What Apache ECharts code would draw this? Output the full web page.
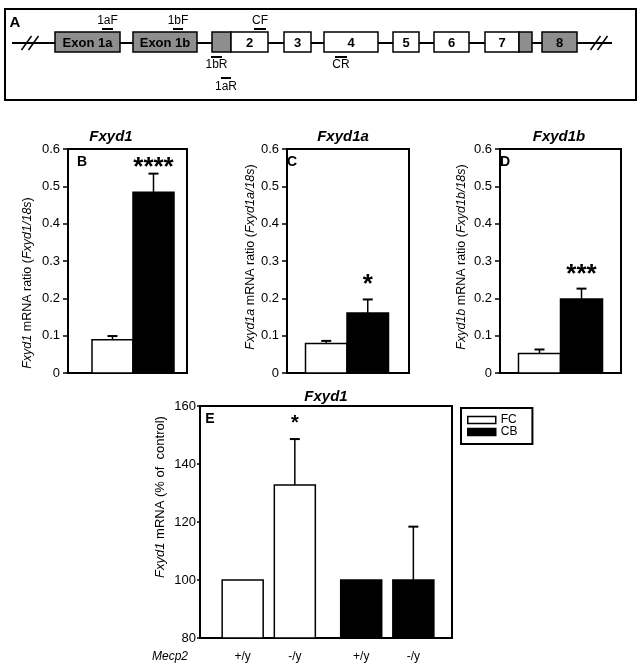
<!DOCTYPE html>
<html>
<head>
<meta charset="utf-8">
<script src="https://cdn.jsdelivr.net/npm/echarts@6/dist/echarts.min.js"></script>
<style>
  html, body { margin: 0; padding: 0; background: #fff; }
  #chart { width: 643px; height: 671px; }
</style>
</head>
<body>
<div id="chart"></div>
<script>
const FONT = "'Liberation Sans', Arial, sans-serif"

// Panel A: gene map, positions in diagram units along the panel box
const exonStart = [50, 128, 207, 226, 279, 319, 388, 429, 480, 514, 537]
const exonEnd = [115, 192, 226, 263, 306, 373, 414, 464, 514, 527, 572]
const exonLabel = ['Exon 1a', 'Exon 1b', '', '2', '3', '4', '5', '6', '7', '', '8']
const exonUtr = [1, 1, 1, 0, 0, 0, 0, 0, 0, 1, 1]
const primerName = ['1aF', '1bF', 'CF', '1bR', '1aR', 'CR']
const primerStart = [97, 168, 249, 206, 216, 330]
const primerEnd = [108, 178, 261, 217, 226, 342]
const primerRow = [0, 0, 0, 1, 2, 1]
const backbone = [7, 607]
const breakAt = [25, 594]

// Panels B-D: mRNA ratio, white = FC, black = CB
const tissue = ['FC', 'CB']
const tissueFill = ['#ffffff', '#000000']
const ratioTicks = [0, 0.1, 0.2, 0.3, 0.4, 0.5, 0.6]
const fxyd1Ratio = [0.089, 0.484]
const fxyd1Sem = [0.010, 0.050]
const fxyd1Sig = ['', '****']
const fxyd1aRatio = [0.079, 0.161]
const fxyd1aSem = [0.007, 0.036]
const fxyd1aSig = ['', '*']
const fxyd1bRatio = [0.052, 0.198]
const fxyd1bSem = [0.011, 0.028]
const fxyd1bSig = ['', '***']

// Panel E: % of control by Mecp2 genotype
const genotype = ['+/y', '-/y']
const percentTicks = [80, 100, 120, 140, 160]
const fcPercent = [100, 132.8]
const fcSem = [0, 15.8]
const fcSig = ['', '*']
const cbPercent = [100, 100]
const cbSem = [0, 18.4]
const cbSig = ['', '']

// layout of the gene map rows (diagram units, top = 0)
const LINE_Y = 34
const EXON_TOP = 23
const EXON_BOTTOM = 43
const ROW_BAR_Y = [20, 48, 69]
const ROW_TEXT_Y = [12, 56, 78]

function renderBackbone(params, api) {
  const a = api.coord([api.value(0), LINE_Y])
  const b = api.coord([api.value(1), LINE_Y])
  return {
    type: 'line',
    shape: { x1: a[0], y1: a[1], x2: b[0], y2: b[1] },
    style: { stroke: '#000', lineWidth: 2 },
  }
}

function renderBreak(params, api) {
  const c = api.coord([api.value(0), LINE_Y])
  return {
    type: 'group',
    children: [-3.5, 3.5].map((d) => ({
      type: 'line',
      shape: { x1: c[0] + d - 5, y1: c[1] + 7, x2: c[0] + d + 5, y2: c[1] - 7 },
      style: { stroke: '#000', lineWidth: 1.5 },
    })),
  }
}

function renderExon(params, api) {
  const i = params.dataIndex
  const a = api.coord([api.value(0), EXON_TOP])
  const b = api.coord([api.value(1), EXON_BOTTOM])
  const kids = [{
    type: 'rect',
    shape: { x: a[0], y: a[1], width: b[0] - a[0], height: b[1] - a[1] },
    style: { fill: exonUtr[i] ? '#8e8e8e' : '#ffffff', stroke: '#000', lineWidth: 1.5 },
  }]
  if (exonLabel[i]) {
    kids.push({
      type: 'text',
      style: {
        text: exonLabel[i], x: (a[0] + b[0]) / 2, y: (a[1] + b[1]) / 2 + 1,
        align: 'center', verticalAlign: 'middle',
        font: 'bold 13px ' + FONT, fill: '#000',
      },
    })
  }
  return { type: 'group', children: kids }
}

function renderPrimer(params, api) {
  const i = params.dataIndex
  const row = api.value(2)
  const a = api.coord([api.value(0), ROW_BAR_Y[row]])
  const b = api.coord([api.value(1), ROW_BAR_Y[row]])
  const t = api.coord([(api.value(0) + api.value(1)) / 2, ROW_TEXT_Y[row]])
  return {
    type: 'group',
    children: [
      { type: 'line', shape: { x1: a[0], y1: a[1], x2: b[0], y2: b[1] }, style: { stroke: '#000', lineWidth: 2 } },
      {
        type: 'text',
        style: { text: primerName[i], x: t[0], y: t[1], align: 'center', verticalAlign: 'middle', font: '12px ' + FONT, fill: '#000' },
      },
    ],
  }
}

// bars with upward SEM whisker and significance stars
function makeBarRenderer(cfg) {
  return function (params, api) {
    const i = params.dataIndex
    const cs = params.coordSys
    const x = api.value(0) + cfg.spread * (i - 0.5)
    const v = api.value(1)
    const e = api.value(2)
    const tl = api.coord([x - cfg.width / 2, v])
    const br = api.coord([x + cfg.width / 2, cfg.base])
    const mid = (tl[0] + br[0]) / 2
    const kids = [{
      type: 'rect',
      shape: { x: tl[0], y: tl[1], width: br[0] - tl[0], height: br[1] - tl[1] },
      style: { fill: cfg.fill ? cfg.fill[i] : api.visual('color'), stroke: '#000', lineWidth: 1.5 },
    }]
    let top = tl[1]
    if (e > 0) {
      top = api.coord([x, v + e])[1]
      kids.push({ type: 'line', shape: { x1: mid, y1: tl[1], x2: mid, y2: top }, style: { stroke: '#000', lineWidth: 1.5 } })
      kids.push({ type: 'line', shape: { x1: mid - 5, y1: top, x2: mid + 5, y2: top }, style: { stroke: '#000', lineWidth: 2 } })
    }
    const mark = cfg.marks[i]
    if (mark) {
      const cy = Math.max(top - 20, cs.y + 13)
      kids.push({
        type: 'text',
        style: {
          text: mark, x: mid, y: cy + 0.22 * cfg.markSize,
          align: 'center', verticalAlign: 'middle',
          font: 'bold ' + cfg.markSize + 'px ' + FONT, fill: '#000',
        },
      })
    }
    if (cfg.labels) {
      kids.push({
        type: 'text',
        style: {
          text: cfg.labels[i], x: mid, y: cs.y + cs.height + 19,
          align: 'center', verticalAlign: 'middle', font: '12px ' + FONT, fill: '#000',
        },
      })
    }
    return { type: 'group', children: kids }
  }
}

function pairData(values, sem) {
  return values.map((v, i) => [i, v, sem[i]])
}

function groupData(group, values, sem) {
  return values.map((v, i) => [group, v, sem[i]])
}

function valueAxis(gridIndex, ticks, name, nameSize, nameGap, namePad, tickLen, margin) {
  return {
    type: 'value',
    gridIndex: gridIndex,
    min: ticks[0],
    max: ticks[ticks.length - 1],
    interval: ticks[1] - ticks[0],
    name: name,
    nameLocation: 'middle',
    nameRotate: 90,
    nameGap: nameGap,
    nameTextStyle: {
      color: '#000', fontSize: nameSize, fontFamily: FONT, padding: namePad,
      rich: { i: { fontStyle: 'italic', fontSize: nameSize, fontFamily: FONT, color: '#000' } },
    },
    axisLine: { show: true, onZero: false, lineStyle: { color: '#000', width: 2 } },
    axisTick: { show: true, length: tickLen, lineStyle: { color: '#000', width: 1.5 } },
    axisLabel: { color: '#000', fontSize: 13, fontFamily: FONT, margin: margin },
    splitLine: { show: false },
  }
}

function hiddenX(gridIndex, min, max) {
  return { type: 'value', gridIndex: gridIndex, min: min, max: max, show: false }
}

function label(text, x, y, font) {
  return {
    type: 'text', x: x, y: y,
    style: { text: text, align: 'center', verticalAlign: 'middle', font: font, fill: '#000' },
  }
}

const gridBox = { show: true, borderColor: '#000', borderWidth: 2, backgroundColor: 'transparent' }

const chart = echarts.init(document.getElementById('chart'))
chart.setOption({
  animation: false,
  backgroundColor: '#fff',
  grid: [
    Object.assign({ left: 5, top: 9, width: 631, height: 91 }, gridBox),
    Object.assign({ left: 68, top: 149, width: 119, height: 224 }, gridBox),
    Object.assign({ left: 287, top: 149, width: 122, height: 224 }, gridBox),
    Object.assign({ left: 500, top: 149, width: 121, height: 224 }, gridBox),
    Object.assign({ left: 200, top: 406, width: 252, height: 232 }, gridBox),
  ],
  xAxis: [
    hiddenX(0, 0, 631),
    hiddenX(1, -1.085, 1.817),
    hiddenX(2, -0.946, 1.994),
    hiddenX(3, -0.94, 1.94),
    hiddenX(4, -0.58, 1.546),
  ],
  yAxis: [
    { type: 'value', gridIndex: 0, min: 0, max: 91, inverse: true, show: false },
    valueAxis(1, ratioTicks, '{i|Fxyd1} mRNA ratio ({i|Fxyd1/18s})', 12.5, 34, [0, 44, 0, 0], 5, 8),
    valueAxis(2, ratioTicks, '{i|Fxyd1a} mRNA ratio ({i|Fxyd1a/18s})', 12.5, 30, [0, 0, 0, 8], 5, 8),
    valueAxis(3, ratioTicks, '{i|Fxyd1b} mRNA ratio ({i|Fxyd1b/18s})', 12.5, 32, [0, 0, 0, 8], 5, 8),
    valueAxis(4, percentTicks, '{i|Fxyd1} mRNA (% of  control)', 13, 33, [0, 0, 0, 50], 3, 4),
  ],
  legend: {
    data: tissue,
    orient: 'vertical',
    left: 461,
    top: 408,
    icon: 'rect',
    itemWidth: 28,
    itemHeight: 7,
    itemGap: 0,
    padding: [6, 15, 6, 6],
    borderColor: '#000',
    borderWidth: 2,
    selectedMode: false,
    textStyle: { color: '#000', fontSize: 12, fontFamily: FONT, lineHeight: 12 },
    itemStyle: { borderColor: '#000', borderWidth: 1.5 },
  },
  graphic: [
    label('A', 15, 23, 'bold 15px ' + FONT),
    label('B', 82, 162, 'bold 14px ' + FONT),
    label('C', 292, 162, 'bold 14px ' + FONT),
    label('D', 505, 162, 'bold 14px ' + FONT),
    label('E', 210, 419, 'bold 14px ' + FONT),
    label('Fxyd1', 111, 137, 'italic bold 15px ' + FONT),
    label('Fxyd1a', 343, 137, 'italic bold 15px ' + FONT),
    label('Fxyd1b', 559, 137, 'italic bold 15px ' + FONT),
    label('Fxyd1', 326, 397, 'italic bold 15px ' + FONT),
    label('Mecp2', 170, 657, 'italic 12px ' + FONT),
  ],
  series: [
    { type: 'custom', xAxisIndex: 0, yAxisIndex: 0, renderItem: renderBackbone, data: [backbone] },
    { type: 'custom', xAxisIndex: 0, yAxisIndex: 0, renderItem: renderBreak, data: breakAt.map((b) => [b, LINE_Y]) },
    { type: 'custom', xAxisIndex: 0, yAxisIndex: 0, renderItem: renderExon, data: exonStart.map((s, i) => [s, exonEnd[i]]) },
    {
      type: 'custom', xAxisIndex: 0, yAxisIndex: 0, renderItem: renderPrimer,
      data: primerStart.map((s, i) => [s, primerEnd[i], primerRow[i]]),
    },
    {
      type: 'custom', name: 'Fxyd1', xAxisIndex: 1, yAxisIndex: 1,
      renderItem: makeBarRenderer({ spread: 0, width: 1, base: 0, fill: tissueFill, marks: fxyd1Sig, markSize: 26 }),
      data: pairData(fxyd1Ratio, fxyd1Sem),
    },
    {
      type: 'custom', name: 'Fxyd1a', xAxisIndex: 2, yAxisIndex: 2,
      renderItem: makeBarRenderer({ spread: 0, width: 1, base: 0, fill: tissueFill, marks: fxyd1aSig, markSize: 26 }),
      data: pairData(fxyd1aRatio, fxyd1aSem),
    },
    {
      type: 'custom', name: 'Fxyd1b', xAxisIndex: 3, yAxisIndex: 3,
      renderItem: makeBarRenderer({ spread: 0, width: 1, base: 0, fill: tissueFill, marks: fxyd1bSig, markSize: 26 }),
      data: pairData(fxyd1bRatio, fxyd1bSem),
    },
    {
      type: 'custom', name: 'FC', xAxisIndex: 4, yAxisIndex: 4,
      itemStyle: { color: tissueFill[0], borderColor: '#000', borderWidth: 1.5 },
      renderItem: makeBarRenderer({ spread: 0.44, width: 0.346, base: 80, marks: fcSig, markSize: 20, labels: genotype }),
      data: groupData(0, fcPercent, fcSem),
    },
    {
      type: 'custom', name: 'CB', xAxisIndex: 4, yAxisIndex: 4,
      itemStyle: { color: tissueFill[1], borderColor: '#000', borderWidth: 1.5 },
      renderItem: makeBarRenderer({ spread: 0.44, width: 0.346, base: 80, marks: cbSig, markSize: 20, labels: genotype }),
      data: groupData(1, cbPercent, cbSem),
    },
  ],
})
</script>
</body>
</html>
